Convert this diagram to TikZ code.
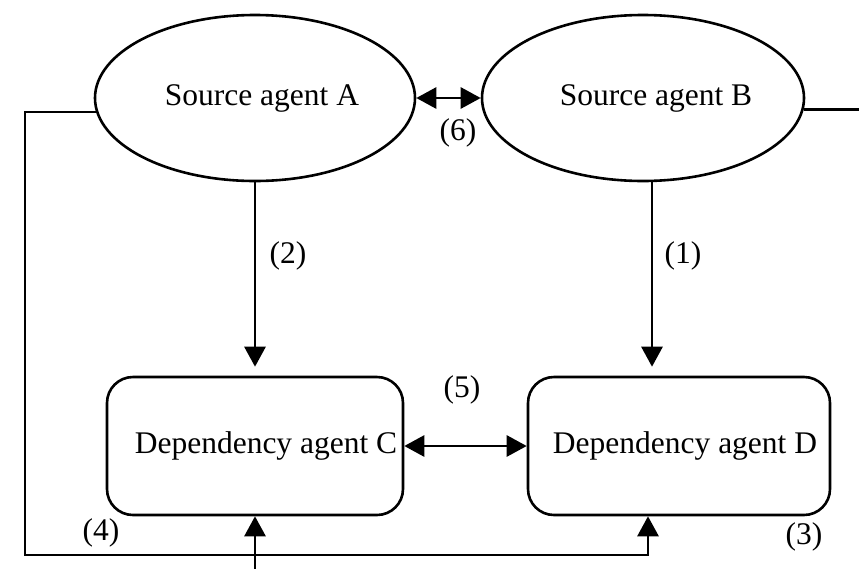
\documentclass[tikz,border=0pt]{standalone}
\usepackage{fontspec}
\setmainfont{Liberation Serif}
\usetikzlibrary{shapes.geometric,arrows.meta}
\begin{document}
\begin{tikzpicture}[x=1pt,y=-1pt,
  every node/.style={font=\fontsize{31.5}{36}\selectfont},
  agent/.style={draw,line width=2.6pt,ellipse,inner sep=0pt,minimum width=320pt,minimum height=166pt},
  depbox/.style={draw,line width=2.6pt,rounded corners=26pt,inner sep=0pt,minimum height=138pt},
  link/.style={line width=2.8pt},
  arr/.style={link,-{Triangle[length=20pt,width=21pt]}},
  dbl/.style={link,{Triangle[length=20pt,width=21pt]}-{Triangle[length=20pt,width=21pt]}},
  tag/.style={inner sep=0pt}
]
\useasboundingbox (0,0) rectangle (859,568);

% agents
\node[agent] (A) at (255,98) {\hspace{14pt}Source agent A};
\node[agent,minimum width=322pt] (B) at (643,98) {\hspace{26pt}Source agent B};
\node[depbox,minimum width=296pt] (C) at (255,446) {\hspace{22pt}Dependency agent C};
\node[depbox,minimum width=302pt] (D) at (679,446) {\hspace{12pt}Dependency agent D};

% routing points
\coordinate (bd) at (652,0);
\coordinate (dd) at (648,0);
\coordinate (lft) at (25,555);
\coordinate (rgt) at (870,109);
\coordinate (low) at (255,580);

% vertical dependencies
\draw[arr,shorten >=9pt] (A.south) -- (C.north);
\draw[arr,shorten >=9pt] (B.south -| bd) -- (C.north -| bd);

% mutual links
\draw[dbl] (A.east) -- (B.west);
\draw[dbl] (C.east) -- (D.west);

% outer loops
\draw[arr] (A.185) -| (lft) -| (D.south -| dd);
\draw[link] (B.-4) -- (B.-4 -| rgt);
\draw[arr] (low) -- (C.south);

% labels
\node[tag] (l2) at (288,256) {(2)};
\node[tag] (l1) at (683,256) {(1)};
\node[tag] (l6) at (458,133) {(6)};
\node[tag] (l5) at (462,390) {(5)};
\node[tag] (l4) at (101,533) {(4)};
\node[tag] (l3) at (804,537) {(3)};
\end{tikzpicture}
\end{document}
